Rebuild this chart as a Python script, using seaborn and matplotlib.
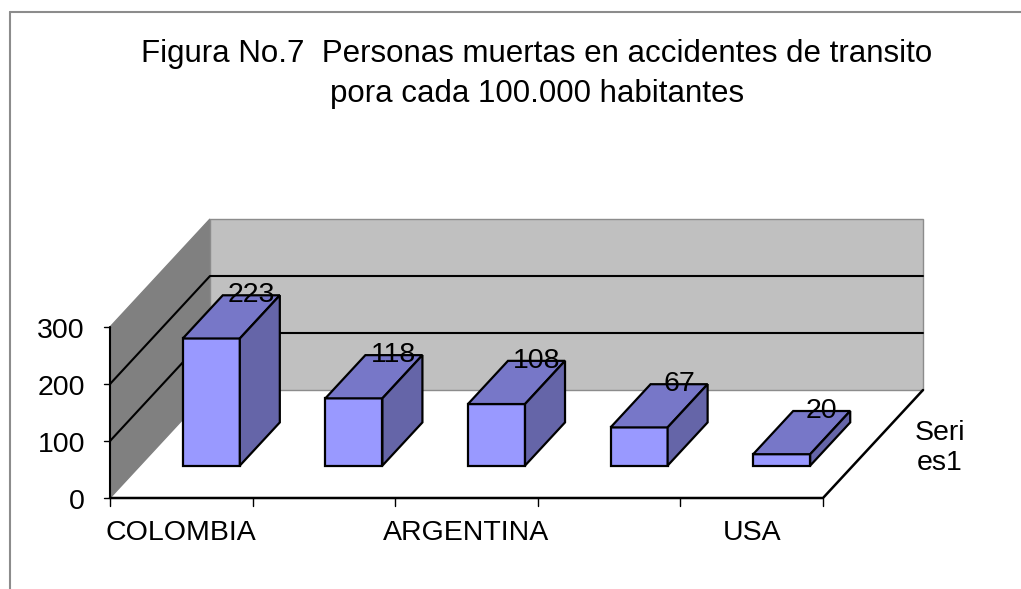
import numpy as np
import matplotlib
matplotlib.use("Agg")
import matplotlib.pyplot as plt
from matplotlib.patches import Polygon
import seaborn as sns

# datos de la figura
paises = ["COLOMBIA", "", "ARGENTINA", "", "USA"]
muertes = [223, 118, 108, 67, 20]
y_ticks = [0, 100, 200, 300]
serie = "Seri\nes1"
titulo = "Figura No.7  Personas muertas en accidentes de transito\npora cada 100.000 habitantes"

sns.set_theme(style="white")
plt.rcParams['font.family'] = ['Liberation Sans', 'DejaVu Sans']
fs = 20.5

W, H = 1021, 589
fig = plt.figure(figsize=(W / 100, H / 100), dpi=100)
ax = fig.add_axes([0, 0, 1, 1])

# proyeccion oblicua tipo excel 3D
cat_px = 142.6          # px por categoria
val_px = 0.57           # px por unidad
DX = 100 / cat_px       # profundidad total (en unidades x)
DY = 108 / val_px       # profundidad total (en unidades y)
D0, D1 = 0.3, 0.7       # barras entre estas profundidades
ymax = y_ticks[-1]
n = len(muertes)
x_ini, x_fin = -0.5, n - 0.5


def P(X, V, D):
    return (X + (D - D0) * DX, V + (D - D0) * DY)


# paredes y piso
pared_izq = [P(x_ini, 0, 0), P(x_ini, 0, 1), P(x_ini, ymax, 1), P(x_ini, ymax, 0)]
ax.add_patch(Polygon(pared_izq, closed=True, fc="#808080", ec="#808080", lw=1, zorder=1))
pared_fondo = [P(x_ini, 0, 1), P(x_fin, 0, 1), P(x_fin, ymax, 1), P(x_ini, ymax, 1)]
ax.add_patch(Polygon(pared_fondo, closed=True, fc="#c0c0c0", ec="#8c8c8c", lw=1, zorder=1))

# lineas de division
for v in y_ticks[1:-1]:
    pts = np.array([P(x_ini, v, 0), P(x_ini, v, 1), P(x_fin, v, 1)])
    ax.plot(pts[:, 0], pts[:, 1], color="black", lw=1.5, zorder=2)

# bordes del piso
pts = np.array([P(x_ini, 0, 0), P(x_fin, 0, 0), P(x_fin, 0, 1)])
ax.plot(pts[:, 0], pts[:, 1], color="black", lw=1.8, zorder=2)

# eje y
pts = np.array([P(x_ini, 0, 0), P(x_ini, ymax, 0)])
ax.plot(pts[:, 0], pts[:, 1], color="black", lw=1.5, zorder=2)
for v in y_ticks:
    x, y = P(x_ini, v, 0)
    ax.plot([x - 6 / cat_px, x], [y, y], color="black", lw=1, zorder=2)
    ax.text(x - 25 / cat_px, y - 4 / val_px, str(v), ha="right", va="center", fontsize=fs, color="black")

# eje x
for i in range(n + 1):
    x, y = P(x_ini + i, 0, 0)
    ax.plot([x, x], [y, y - 8 / val_px], color="black", lw=1, zorder=2)
for i, lab in enumerate(paises):
    x, y = P(i, 0, 0)
    ax.text(x, y - 35 / val_px, lab, ha="center", va="center", fontsize=fs, color="black")

# caras frontales con seaborn
sns.barplot(x=np.arange(n), y=muertes, width=D1 - D0, color="#9999FF", saturation=1,
            edgecolor="black", linewidth=1.6, errorbar=None, ax=ax, zorder=3)

# caras superior y lateral
hw = (D1 - D0) / 2
for i, v in enumerate(muertes):
    top = [P(i - hw, v, D0), P(i + hw, v, D0), P(i + hw, v, D1), P(i - hw, v, D1)]
    lado = [P(i + hw, 0, D0), P(i + hw, 0, D1), P(i + hw, v, D1), P(i + hw, v, D0)]
    ax.add_patch(Polygon(top, closed=True, fc="#7777C8", ec="black", lw=1.6, zorder=4))
    ax.add_patch(Polygon(lado, closed=True, fc="#6565A8", ec="black", lw=1.6, zorder=4))
    lx, ly = P(i, v, D1)
    ax.text(lx, ly, str(v), ha="center", va="center", fontsize=fs, color="black", zorder=6)

# nombre de la serie
sx, sy = P(x_fin, 0, 1)
ax.text(sx + 17 / cat_px, sy - 58 / val_px, serie, ha="center", va="center",
        fontsize=fs, linespacing=1.15, color="black")

# limites: mapeo a pixeles
x0_px = 110 + 0.5 * cat_px + D0 * 100
y0_px = 498 - D0 * 108
ax.set_xlim(-x0_px / cat_px, (W - x0_px) / cat_px)
ax.set_ylim((y0_px - H) / val_px, y0_px / val_px)
ax.set_axis_off()

# titulo
fig.text(537 / W, 1 - 74 / H, titulo, ha="center", va="center", fontsize=22.5,
         linespacing=1.42, color="black")

# marco del grafico
fig.add_artist(plt.Line2D([10 / W, 1], [1 - 12 / H, 1 - 12 / H], transform=fig.transFigure,
                          color="#8c8c8c", lw=1.5))
fig.add_artist(plt.Line2D([10 / W, 10 / W], [0, 1 - 12 / H], transform=fig.transFigure,
                          color="#8c8c8c", lw=1.5))

fig.savefig("out.png", dpi=100)
